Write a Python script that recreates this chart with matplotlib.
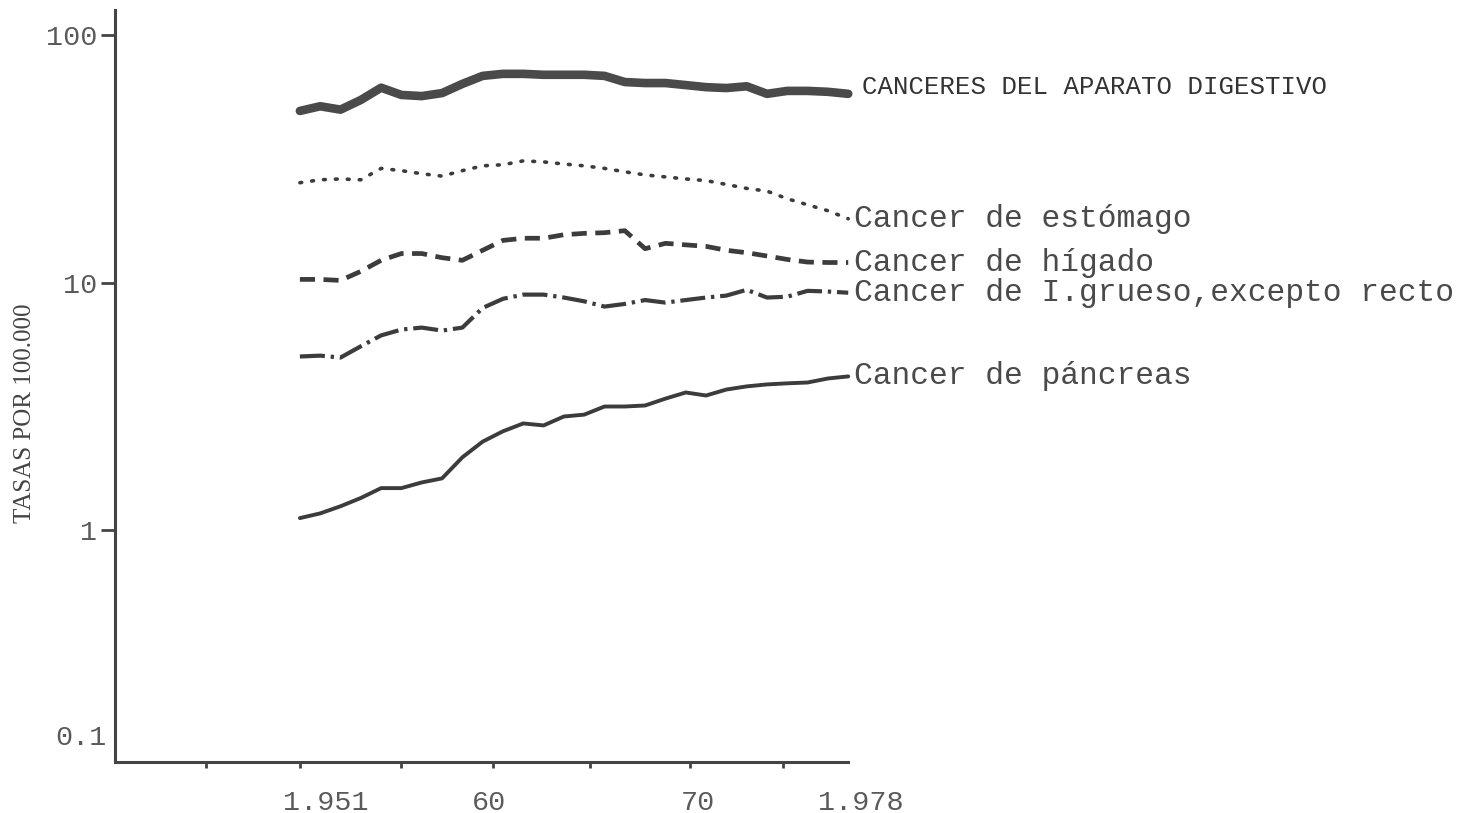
import matplotlib.pyplot as plt

# years 1951..1978
years = list(range(1951, 1979))

digestivo = [49.3, 51.5, 49.9, 54.6, 61.2, 57.2, 56.6, 58.2, 63.4, 68.3,
             69.6, 69.6, 69.0, 69.0, 69.0, 68.3, 64.5, 63.9, 63.9, 62.7,
             61.5, 61.0, 62.0, 57.8, 59.4, 59.4, 58.9, 57.8]

estomago = [25.3, 26.0, 26.2, 26.0, 28.9, 28.3, 27.5, 26.9, 28.3, 29.6,
            29.9, 31.0, 30.7, 30.1, 29.6, 28.9, 28.0, 27.2, 26.7, 26.2,
            25.8, 24.9, 24.0, 23.4, 21.8, 20.6, 19.5, 18.1]

higado = [10.3, 10.3, 10.2, 11.1, 12.3, 13.1, 13.1, 12.6, 12.3, 13.5,
          14.8, 15.1, 15.1, 15.6, 15.8, 15.9, 16.2, 13.7, 14.4, 14.2,
          14.0, 13.5, 13.2, 12.8, 12.4, 12.1, 12.05, 12.05]

grueso = [5.03, 5.07, 4.98, 5.53, 6.12, 6.46, 6.58, 6.40, 6.58, 7.9,
          8.6, 8.94, 8.94, 8.7, 8.4, 8.0, 8.2, 8.5, 8.3, 8.5,
          8.7, 8.86, 9.35, 8.7, 8.77, 9.26, 9.2, 9.1]

pancreas = [1.12, 1.17, 1.25, 1.35, 1.48, 1.48, 1.56, 1.62, 1.97, 2.28,
            2.51, 2.70, 2.65, 2.88, 2.93, 3.16, 3.16, 3.19, 3.40, 3.60,
            3.50, 3.70, 3.81, 3.88, 3.92, 3.95, 4.10, 4.18]

labels = ["CANCERES DEL APARATO DIGESTIVO", "Cancer de estómago",
          "Cancer de hígado", "Cancer de I.grueso,excepto recto",
          "Cancer de páncreas"]

ytick_vals = [1, 10, 100]
ytick_labels = ["1", "10", "100"]
xlabel_pos = [1952.3, 1960.3, 1970.6, 1978.6]
xlabel_text = ["1.951", "60", "70", "1.978"]
xmark_pos = [1946.4, 1951, 1956, 1960.5, 1965.3, 1970.2, 1974.8]

ink = "#3c3c3c"
mono = "Liberation Mono"

fig = plt.figure(figsize=(14.64, 8.13), dpi=100)
ax = fig.add_axes([0.0786, 0.0627, 0.5216, 0.925])

ax.plot(years, digestivo, color="#4a4a4a", lw=6.2, solid_capstyle="round",
        solid_joinstyle="round")
ax.plot(years, estomago, color=ink, lw=2.6, linestyle=(0, (0.5, 2.8)),
        dash_capstyle="round")
ax.plot(years, higado, color=ink, lw=3.4, linestyle=(0, (3.2, 1.8)))
ax.plot(years, grueso, color=ink, lw=3.0, linestyle=(0, (6, 1.4, 0.8, 1.4)))
ax.plot(years, pancreas, color=ink, lw=2.8, solid_capstyle="round",
        solid_joinstyle="round")

ax.set_yscale("log")
ax.set_ylim(0.116, 126)
ax.set_xlim(1941.9, 1979.5)

for s in ["top", "right"]:
    ax.spines[s].set_visible(False)
for s in ["left", "bottom"]:
    ax.spines[s].set_linewidth(2.2)
    ax.spines[s].set_color("#444444")
ax.spines["bottom"].set_bounds(1941.9, 1978)

# y ticks
ax.set_yticks(ytick_vals)
ax.set_yticklabels(ytick_labels, fontfamily=mono, fontsize=20.5, color="#5a5a5a")
ax.yaxis.set_minor_locator(plt.NullLocator())
ax.tick_params(axis="y", which="major", length=10, width=2, color="#444444", pad=3)
# 0.1 label sits above the axis line, without a tick
ax.annotate("0.1", xy=(0, 0.145), xycoords=("axes fraction", "data"),
            xytext=(-6, 0), textcoords="offset points", ha="right", va="center",
            fontfamily=mono, fontsize=20.5, color="#5a5a5a")

# x ticks: labels on major (no marks), small marks on minor
ax.set_xticks(xlabel_pos)
ax.set_xticklabels(xlabel_text, fontfamily=mono, fontsize=20.5, color="#5a5a5a")
ax.tick_params(axis="x", which="major", length=0, pad=20)
ax.set_xticks(xmark_pos, minor=True)
ax.tick_params(axis="x", which="minor", length=4, width=2, color="#444444")

fig.text(25 / 1464, 1 - 413 / 813, "TASAS POR 100.000", rotation=90,
         ha="center", va="center", fontfamily="Liberation Serif", fontsize=18,
         color="#444444")

# labels at line ends
ends = [digestivo[-1], estomago[-1], higado[-1], grueso[-1], pancreas[-1]]
ax.annotate(labels[0], xy=(years[-1], ends[0]), xytext=(10, 5),
            textcoords="offset points", ha="left", va="center",
            fontfamily=mono, fontsize=18.5, color="#333333",
            annotation_clip=False)
for lab, yv in zip(labels[1:], ends[1:]):
    ax.annotate(lab, xy=(years[-1], yv), xytext=(4, 0),
                textcoords="offset points", ha="left", va="center",
                fontfamily=mono, fontsize=22.5, color="#4a4a4a",
                annotation_clip=False)

fig.savefig("out.png", dpi=100)
